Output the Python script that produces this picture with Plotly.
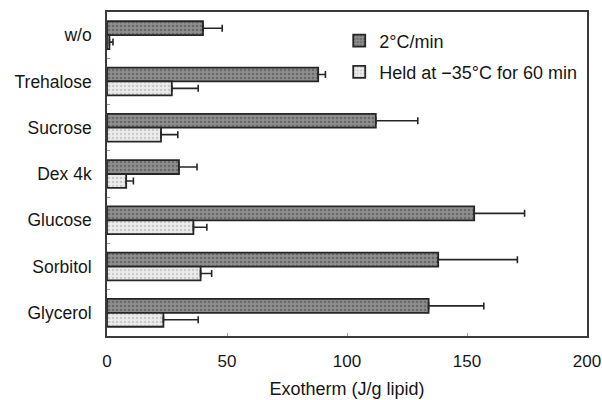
import plotly.graph_objects as go

# Categories (top to bottom)
samples = ["w/o", "Trehalose", "Sucrose", "Dex 4k", "Glucose", "Sorbitol", "Glycerol"]

# Exotherm (J/g lipid), cooled at 2 °C/min
cooled = [40, 88, 112, 30, 153, 138, 134]
cooled_err = [8, 3, 17.5, 7.5, 21, 33, 23]

# Exotherm (J/g lipid), held at -35 °C for 60 min
held = [1, 27, 22.5, 8, 36, 39, 23.5]
held_err = [1.5, 11, 7, 3, 5.6, 4.6, 14.5]

x_ticks = [0, 50, 100, 150, 200]

FONT = "Liberation Sans, Arial, sans-serif"
INK = "#161616"
EDGE = "#262626"


def err(values):
    return dict(type="data", array=values, arrayminus=[0] * len(values),
                symmetric=False, color=EDGE, thickness=1.6, width=3.5)


fig = go.Figure()
fig.add_trace(go.Bar(
    y=samples, x=cooled, orientation="h", name="2°C/min",
    legendgroup="a",
    marker=dict(color="#8a8a8a", line=dict(color=EDGE, width=1.8),
                pattern=dict(shape=".", fgcolor="#6a6a6a", bgcolor="#8f8f8f",
                             size=4, solidity=0.35, fillmode="replace")),
    error_x=err(cooled_err),
))
fig.add_trace(go.Bar(
    y=samples, x=held, orientation="h", name="Held at \u221235°C for 60 min",
    legendgroup="b",
    marker=dict(color="#e8e8e8", line=dict(color=EDGE, width=1.8),
                pattern=dict(shape=".", fgcolor="#cacaca", bgcolor="#ececec",
                             size=4, solidity=0.3, fillmode="replace")),
    error_x=err(held_err),
))

fig.update_layout(
    width=602, height=400,
    margin=dict(l=107, r=15, t=12, b=64, autoexpand=False),
    paper_bgcolor="white", plot_bgcolor="white",
    barmode="group", bargap=0.4, bargroupgap=0,
    font=dict(family=FONT, size=17, color=INK),
    showlegend=True,
    legend=dict(x=0.4838, y=0.968, xanchor="left", yanchor="top",
                bgcolor="rgba(0,0,0,0)", borderwidth=0,
                traceorder="grouped", tracegroupgap=5,
                font=dict(family=FONT, size=18, color=INK)),
    xaxis=dict(range=[0, 200], tickvals=x_ticks, showgrid=False, zeroline=False,
               automargin=False,
               showline=True, mirror=True, linecolor="#3a3a3a", linewidth=1.6,
               ticks="inside", ticklen=3, tickcolor="#9a9a9a",
               ticklabelstandoff=9,
               title=dict(text="Exotherm (J/g lipid)", standoff=12,
                          font=dict(family=FONT, size=18, color=INK))),
    yaxis=dict(autorange="reversed", showgrid=False, zeroline=False,
               automargin=False, tickfont=dict(family=FONT, size=17.5, color=INK),
               showline=True, mirror=True, linecolor="#3a3a3a", linewidth=1.6,
               ticks="inside", ticklen=3, tickcolor="#9a9a9a",
               tickson="boundaries", ticklabelstandoff=10),
)

fig.write_html("out.html")
